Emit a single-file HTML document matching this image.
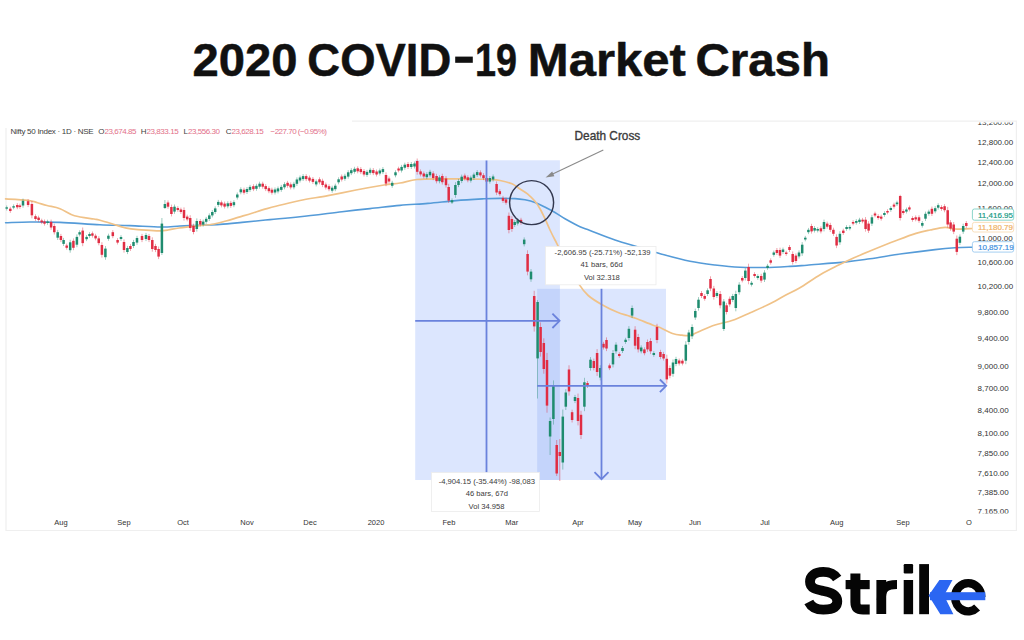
<!DOCTYPE html>
<html><head><meta charset="utf-8"><style>
html,body{margin:0;padding:0;background:#fff;width:1024px;height:640px;overflow:hidden}
svg{position:absolute;left:0;top:0;display:block}
text{font-family:"Liberation Sans",sans-serif}
.ax{font-size:8px;fill:#333}
.tt{font-size:7.6px;fill:#3a3a3a}
.hd{font-size:8px}
</style></head><body>
<svg width="1024" height="640" viewBox="0 0 1024 640">
<rect width="1024" height="640" fill="#fff"/>
<g font-size="45.5" font-weight="bold" fill="#111" stroke="#111" stroke-width="0.5" stroke-linejoin="round">
<text x="192.6" y="76.3" textLength="105" lengthAdjust="spacingAndGlyphs">2020</text>
<text x="307.3" y="76.3" textLength="144" lengthAdjust="spacingAndGlyphs">COVID</text>
<rect x="455.2" y="56.6" width="17.6" height="6.2" stroke="none"/>
<text x="475" y="76.3" textLength="42" lengthAdjust="spacingAndGlyphs">19</text>
<text x="527.8" y="76.3" textLength="158.1" lengthAdjust="spacingAndGlyphs">Market</text>
<text x="695.4" y="76.3" textLength="134.6" lengthAdjust="spacingAndGlyphs">Crash</text>
</g>
<!-- chart frame -->
<path d="M6,128 L6,530.5 L1016.4,530.5 L1016.4,121.2 L352,121.2" fill="none" stroke="#efefef" stroke-width="1.2"/>
<!-- ranges -->
<rect x="415.2" y="160.3" width="144.7" height="319.7" fill="#dce6fe"/>
<rect x="537.2" y="288.8" width="128.8" height="191.2" fill="#dce6fe"/>
<rect x="537.2" y="288.8" width="22.7" height="191.2" fill="#c4d4fb"/>
<!-- MAs -->
<path d="M5.6,222.8 C9.7,222.7 20.9,222.1 30.0,222.0 C39.1,221.9 48.3,222.0 60.0,222.4 C71.7,222.8 88.3,224.2 100.0,224.7 C111.7,225.2 119.8,225.2 130.0,225.6 C140.2,226.0 152.7,226.9 161.0,227.0 C169.3,227.1 173.5,226.3 180.0,226.0 C186.5,225.7 193.3,225.6 200.0,225.3 C206.7,225.0 213.0,224.9 220.0,224.4 C227.0,223.9 233.7,223.2 242.0,222.4 C250.3,221.6 260.3,220.5 270.0,219.6 C279.7,218.7 288.0,218.1 300.0,216.8 C312.0,215.5 330.3,213.1 342.0,211.7 C353.7,210.3 360.3,209.6 370.0,208.6 C379.7,207.6 390.3,206.3 400.0,205.4 C409.7,204.5 418.7,204.2 428.0,203.4 C437.3,202.6 446.7,201.4 456.0,200.6 C465.3,199.8 476.7,199.2 484.0,198.8 C491.3,198.4 494.8,198.4 500.0,198.4 C505.2,198.4 510.8,198.4 515.0,198.6 C519.2,198.8 521.7,199.2 525.0,199.8 C528.3,200.5 531.7,201.3 535.0,202.5 C538.3,203.7 541.4,205.3 544.7,207.0 C548.0,208.7 551.6,210.5 555.0,212.5 C558.4,214.5 560.8,216.4 565.0,218.8 C569.2,221.2 575.8,224.8 580.0,226.7 C584.2,228.6 584.2,228.3 590.0,230.5 C595.8,232.7 606.7,237.2 615.0,240.0 C623.3,242.8 631.7,245.0 640.0,247.5 C648.3,250.0 656.7,252.7 665.0,255.0 C673.3,257.3 681.7,259.6 690.0,261.3 C698.3,263.0 706.7,264.0 715.0,265.0 C723.3,266.0 731.7,266.9 740.0,267.3 C748.3,267.7 756.7,267.6 765.0,267.5 C773.3,267.4 783.0,266.8 790.0,266.4 C797.0,266.0 797.7,265.9 807.0,265.2 C816.3,264.4 835.5,263.0 846.0,261.9 C856.5,260.8 860.7,260.1 870.0,258.8 C879.3,257.5 891.2,255.3 902.0,253.8 C912.8,252.3 926.2,250.6 935.0,249.6 C943.8,248.6 948.8,248.2 955.0,247.8 C961.2,247.4 969.6,247.3 972.5,247.2" fill="none" stroke="#559bd8" stroke-width="1.6" stroke-linejoin="round" stroke-linecap="round"/>
<path d="M5.6,198.9 C9.3,199.1 22.7,199.7 28.0,200.3 C33.3,200.9 34.3,201.8 37.5,202.7 C40.7,203.6 43.2,204.5 47.0,205.5 C50.8,206.5 55.4,207.0 60.0,208.7 C64.6,210.4 68.8,214.1 74.5,215.8 C80.2,217.5 89.8,218.3 94.0,219.0 C98.2,219.7 96.9,219.4 100.0,220.2 C103.1,221.0 108.5,222.7 112.7,224.0 C116.9,225.3 121.2,226.9 125.4,227.8 C129.6,228.8 133.9,229.3 138.0,229.7 C142.1,230.1 146.3,230.1 150.0,230.3 C153.7,230.5 157.0,230.9 160.0,230.8 C163.0,230.8 164.8,230.5 168.0,230.0 C171.2,229.5 174.7,228.6 179.0,228.0 C183.3,227.4 188.2,226.9 194.0,226.2 C199.8,225.5 208.7,224.9 214.0,224.0 C219.3,223.1 222.0,222.1 226.0,221.0 C230.0,219.9 233.7,218.7 238.0,217.4 C242.3,216.1 247.2,214.7 252.0,213.2 C256.8,211.7 261.8,210.0 267.0,208.6 C272.2,207.2 277.5,205.8 283.0,204.5 C288.5,203.2 292.5,202.0 300.0,200.5 C307.5,199.0 318.7,197.3 328.0,195.6 C337.3,193.8 346.7,191.8 356.0,190.0 C365.3,188.2 376.7,186.2 384.0,185.0 C391.3,183.8 394.5,183.9 400.0,183.0 C405.5,182.1 410.0,180.2 417.0,179.5 C424.0,178.8 433.2,178.9 442.0,178.8 C450.8,178.7 462.0,178.9 470.0,179.0 C478.0,179.1 485.0,179.2 490.0,179.5 C495.0,179.8 496.3,179.8 500.0,180.5 C503.7,181.2 508.7,182.4 512.0,183.8 C515.3,185.2 517.4,187.3 520.0,189.0 C522.6,190.7 525.0,191.8 527.5,193.8 C530.0,195.9 532.9,198.8 535.0,201.3 C537.1,203.8 538.3,205.8 540.0,208.7 C541.7,211.6 543.3,215.1 545.0,218.7 C546.7,222.2 548.3,226.4 550.0,230.0 C551.7,233.6 553.3,236.8 555.0,240.0 C556.7,243.2 558.2,246.2 560.0,249.5 C561.8,252.8 563.8,256.2 566.0,260.0 C568.2,263.8 570.8,267.9 573.0,272.0 C575.2,276.1 576.8,280.7 579.3,284.6 C581.8,288.5 584.3,292.1 588.2,295.5 C592.1,298.9 597.6,302.2 602.5,305.0 C607.4,307.8 613.3,310.6 617.5,312.3 C621.7,314.1 624.4,314.5 627.5,315.5 C630.6,316.5 632.1,316.9 636.3,318.5 C640.5,320.1 648.5,323.5 652.5,325.0 C656.5,326.5 656.7,326.1 660.0,327.5 C663.3,328.9 668.8,332.2 672.5,333.5 C676.2,334.8 679.0,334.9 682.0,335.2 C685.0,335.5 687.9,335.9 690.5,335.4 C693.1,334.9 693.5,333.9 697.6,332.2 C701.7,330.5 709.1,327.0 715.0,325.0 C720.9,323.0 726.8,322.4 732.7,320.3 C738.6,318.2 744.4,315.3 750.3,312.7 C756.2,310.1 762.0,307.7 767.9,304.8 C773.8,301.9 780.1,298.1 785.4,295.3 C790.7,292.5 793.6,291.6 799.5,288.1 C805.4,284.6 814.1,278.3 820.6,274.5 C827.1,270.7 832.6,268.1 838.2,265.3 C843.8,262.5 848.7,260.2 854.0,257.8 C859.3,255.4 863.2,253.8 870.0,251.0 C876.8,248.2 887.3,243.9 895.0,241.0 C902.7,238.1 910.2,235.2 916.0,233.4 C921.8,231.6 925.2,231.0 930.0,230.0 C934.8,229.0 940.8,227.5 945.0,227.3 C949.2,227.1 950.4,228.8 955.0,229.0 C959.6,229.2 969.6,228.6 972.5,228.5" fill="none" stroke="#f0c288" stroke-width="1.7" stroke-linejoin="round" stroke-linecap="round"/>
<!-- candles -->
<line x1="6.7" y1="205.5" x2="6.7" y2="210.5" stroke="#1f8c6f" stroke-width="0.8" opacity="0.55"/>
<rect x="5.45" y="207.3" width="2.5" height="1.4" fill="#1f8c6f"/>
<line x1="10.3" y1="206.8" x2="10.3" y2="212.9" stroke="#e02d43" stroke-width="0.8" opacity="0.55"/>
<rect x="9.05" y="208.7" width="2.5" height="2.3" fill="#e02d43"/>
<line x1="13.6" y1="204.4" x2="13.6" y2="209.3" stroke="#1f8c6f" stroke-width="0.8" opacity="0.55"/>
<rect x="12.35" y="206.2" width="2.5" height="1.4" fill="#1f8c6f"/>
<line x1="17.3" y1="203.1" x2="17.3" y2="209.2" stroke="#e02d43" stroke-width="0.8" opacity="0.55"/>
<rect x="16.05" y="205.0" width="2.5" height="2.3" fill="#e02d43"/>
<line x1="19.9" y1="203.7" x2="19.9" y2="208.8" stroke="#e02d43" stroke-width="0.8" opacity="0.55"/>
<rect x="18.65" y="205.5" width="2.5" height="1.5" fill="#e02d43"/>
<line x1="23.0" y1="198.6" x2="23.0" y2="207.7" stroke="#1f8c6f" stroke-width="0.8" opacity="0.55"/>
<rect x="21.75" y="200.8" width="2.5" height="4.7" fill="#1f8c6f"/>
<line x1="28.1" y1="199.1" x2="28.1" y2="207.1" stroke="#e02d43" stroke-width="0.8" opacity="0.55"/>
<rect x="26.85" y="201.2" width="2.5" height="3.8" fill="#e02d43"/>
<line x1="31.9" y1="201.0" x2="31.9" y2="218.3" stroke="#e02d43" stroke-width="0.8" opacity="0.55"/>
<rect x="30.65" y="204.0" width="2.5" height="11.3" fill="#e02d43"/>
<line x1="35.5" y1="214.3" x2="35.5" y2="220.9" stroke="#e02d43" stroke-width="0.8" opacity="0.55"/>
<rect x="34.25" y="216.2" width="2.5" height="2.8" fill="#e02d43"/>
<line x1="38.6" y1="215.7" x2="38.6" y2="221.9" stroke="#e02d43" stroke-width="0.8" opacity="0.55"/>
<rect x="37.35" y="217.6" width="2.5" height="2.4" fill="#e02d43"/>
<line x1="41.7" y1="218.7" x2="41.7" y2="224.1" stroke="#e02d43" stroke-width="0.8" opacity="0.55"/>
<rect x="40.45" y="220.5" width="2.5" height="1.8" fill="#e02d43"/>
<line x1="44.5" y1="219.5" x2="44.5" y2="225.6" stroke="#e02d43" stroke-width="0.8" opacity="0.55"/>
<rect x="43.25" y="221.4" width="2.5" height="2.3" fill="#e02d43"/>
<line x1="47.6" y1="219.7" x2="47.6" y2="224.8" stroke="#1f8c6f" stroke-width="0.8" opacity="0.55"/>
<rect x="46.35" y="221.5" width="2.5" height="1.5" fill="#1f8c6f"/>
<line x1="51.1" y1="219.6" x2="51.1" y2="229.8" stroke="#e02d43" stroke-width="0.8" opacity="0.55"/>
<rect x="49.85" y="221.9" width="2.5" height="5.6" fill="#e02d43"/>
<line x1="54.3" y1="223.7" x2="54.3" y2="234.5" stroke="#e02d43" stroke-width="0.8" opacity="0.55"/>
<rect x="53.05" y="226.0" width="2.5" height="6.2" fill="#e02d43"/>
<line x1="57.7" y1="229.9" x2="57.7" y2="240.0" stroke="#1f8c6f" stroke-width="0.8" opacity="0.55"/>
<rect x="56.45" y="232.2" width="2.5" height="5.5" fill="#1f8c6f"/>
<line x1="60.9" y1="233.9" x2="60.9" y2="242.1" stroke="#e02d43" stroke-width="0.8" opacity="0.55"/>
<rect x="59.65" y="236.0" width="2.5" height="4.0" fill="#e02d43"/>
<line x1="63.6" y1="237.9" x2="63.6" y2="246.0" stroke="#1f8c6f" stroke-width="0.8" opacity="0.55"/>
<rect x="62.35" y="240.0" width="2.5" height="3.9" fill="#1f8c6f"/>
<line x1="66.7" y1="243.6" x2="66.7" y2="249.7" stroke="#e02d43" stroke-width="0.8" opacity="0.55"/>
<rect x="65.45" y="245.5" width="2.5" height="2.3" fill="#e02d43"/>
<line x1="70.2" y1="239.8" x2="70.2" y2="252.7" stroke="#1f8c6f" stroke-width="0.8" opacity="0.55"/>
<rect x="68.95" y="242.3" width="2.5" height="7.9" fill="#1f8c6f"/>
<line x1="73.4" y1="238.4" x2="73.4" y2="250.2" stroke="#e02d43" stroke-width="0.8" opacity="0.55"/>
<rect x="72.15" y="240.8" width="2.5" height="7.0" fill="#e02d43"/>
<line x1="76.9" y1="234.4" x2="76.9" y2="247.2" stroke="#1f8c6f" stroke-width="0.8" opacity="0.55"/>
<rect x="75.65" y="236.9" width="2.5" height="7.8" fill="#1f8c6f"/>
<line x1="79.6" y1="230.3" x2="79.6" y2="236.4" stroke="#1f8c6f" stroke-width="0.8" opacity="0.55"/>
<rect x="78.35" y="232.2" width="2.5" height="2.3" fill="#1f8c6f"/>
<line x1="82.7" y1="227.5" x2="82.7" y2="246.2" stroke="#e02d43" stroke-width="0.8" opacity="0.55"/>
<rect x="81.45" y="230.6" width="2.5" height="12.5" fill="#e02d43"/>
<line x1="86.6" y1="235.0" x2="86.6" y2="241.1" stroke="#1f8c6f" stroke-width="0.8" opacity="0.55"/>
<rect x="85.35" y="236.9" width="2.5" height="2.3" fill="#1f8c6f"/>
<line x1="89.5" y1="232.2" x2="89.5" y2="237.8" stroke="#1f8c6f" stroke-width="0.8" opacity="0.55"/>
<rect x="88.25" y="234.0" width="2.5" height="2.0" fill="#1f8c6f"/>
<line x1="92.4" y1="231.5" x2="92.4" y2="237.6" stroke="#e02d43" stroke-width="0.8" opacity="0.55"/>
<rect x="91.15" y="233.4" width="2.5" height="2.3" fill="#e02d43"/>
<line x1="95.6" y1="233.8" x2="95.6" y2="240.3" stroke="#e02d43" stroke-width="0.8" opacity="0.55"/>
<rect x="94.35" y="235.7" width="2.5" height="2.7" fill="#e02d43"/>
<line x1="98.8" y1="236.2" x2="98.8" y2="245.3" stroke="#e02d43" stroke-width="0.8" opacity="0.55"/>
<rect x="97.50" y="238.4" width="2.5" height="4.7" fill="#e02d43"/>
<line x1="101.9" y1="242.2" x2="101.9" y2="257.6" stroke="#e02d43" stroke-width="0.8" opacity="0.55"/>
<rect x="100.65" y="245.0" width="2.5" height="9.8" fill="#e02d43"/>
<line x1="105.4" y1="246.0" x2="105.4" y2="259.8" stroke="#1f8c6f" stroke-width="0.8" opacity="0.55"/>
<rect x="104.15" y="248.6" width="2.5" height="8.6" fill="#1f8c6f"/>
<line x1="108.4" y1="233.7" x2="108.4" y2="240.8" stroke="#1f8c6f" stroke-width="0.8" opacity="0.55"/>
<rect x="107.15" y="235.7" width="2.5" height="3.1" fill="#1f8c6f"/>
<line x1="112.8" y1="230.1" x2="112.8" y2="238.2" stroke="#e02d43" stroke-width="0.8" opacity="0.55"/>
<rect x="111.55" y="232.2" width="2.5" height="3.9" fill="#e02d43"/>
<line x1="117.6" y1="238.1" x2="117.6" y2="244.5" stroke="#e02d43" stroke-width="0.8" opacity="0.55"/>
<rect x="116.35" y="240.0" width="2.5" height="2.6" fill="#e02d43"/>
<line x1="121.0" y1="235.2" x2="121.0" y2="240.8" stroke="#1f8c6f" stroke-width="0.8" opacity="0.55"/>
<rect x="119.75" y="237.0" width="2.5" height="2.0" fill="#1f8c6f"/>
<line x1="124.0" y1="239.4" x2="124.0" y2="252.6" stroke="#e02d43" stroke-width="0.8" opacity="0.55"/>
<rect x="122.75" y="242.0" width="2.5" height="8.0" fill="#e02d43"/>
<line x1="127.4" y1="245.9" x2="127.4" y2="254.1" stroke="#1f8c6f" stroke-width="0.8" opacity="0.55"/>
<rect x="126.15" y="248.0" width="2.5" height="4.0" fill="#1f8c6f"/>
<line x1="130.4" y1="244.0" x2="130.4" y2="251.0" stroke="#e02d43" stroke-width="0.8" opacity="0.55"/>
<rect x="129.15" y="246.0" width="2.5" height="3.0" fill="#e02d43"/>
<line x1="133.5" y1="239.9" x2="133.5" y2="248.1" stroke="#1f8c6f" stroke-width="0.8" opacity="0.55"/>
<rect x="132.25" y="242.0" width="2.5" height="4.0" fill="#1f8c6f"/>
<line x1="137.0" y1="235.8" x2="137.0" y2="244.8" stroke="#1f8c6f" stroke-width="0.8" opacity="0.55"/>
<rect x="135.75" y="238.0" width="2.5" height="4.6" fill="#1f8c6f"/>
<line x1="142.0" y1="233.9" x2="142.0" y2="242.1" stroke="#e02d43" stroke-width="0.8" opacity="0.55"/>
<rect x="140.75" y="236.0" width="2.5" height="4.0" fill="#e02d43"/>
<line x1="146.0" y1="232.9" x2="146.0" y2="241.1" stroke="#1f8c6f" stroke-width="0.8" opacity="0.55"/>
<rect x="144.75" y="235.0" width="2.5" height="4.0" fill="#1f8c6f"/>
<line x1="149.0" y1="233.9" x2="149.0" y2="242.1" stroke="#e02d43" stroke-width="0.8" opacity="0.55"/>
<rect x="147.75" y="236.0" width="2.5" height="4.0" fill="#e02d43"/>
<line x1="152.3" y1="237.3" x2="152.3" y2="251.7" stroke="#e02d43" stroke-width="0.8" opacity="0.55"/>
<rect x="151.05" y="240.0" width="2.5" height="9.0" fill="#e02d43"/>
<line x1="155.5" y1="243.9" x2="155.5" y2="252.1" stroke="#e02d43" stroke-width="0.8" opacity="0.55"/>
<rect x="154.25" y="246.0" width="2.5" height="4.0" fill="#e02d43"/>
<line x1="158.6" y1="246.5" x2="158.6" y2="259.1" stroke="#e02d43" stroke-width="0.8" opacity="0.55"/>
<rect x="157.35" y="249.0" width="2.5" height="7.6" fill="#e02d43"/>
<line x1="161.9" y1="218.0" x2="161.9" y2="255.0" stroke="#1f8c6f" stroke-width="0.8" opacity="0.55"/>
<rect x="160.65" y="223.6" width="2.5" height="29.4" fill="#1f8c6f"/>
<line x1="164.9" y1="200.0" x2="164.9" y2="209.0" stroke="#1f8c6f" stroke-width="0.8" opacity="0.55"/>
<rect x="163.65" y="204.0" width="2.5" height="4.0" fill="#1f8c6f"/>
<line x1="168.0" y1="200.4" x2="168.0" y2="208.8" stroke="#e02d43" stroke-width="0.8" opacity="0.55"/>
<rect x="166.75" y="202.5" width="2.5" height="4.2" fill="#e02d43"/>
<line x1="171.4" y1="204.6" x2="171.4" y2="216.4" stroke="#e02d43" stroke-width="0.8" opacity="0.55"/>
<rect x="170.15" y="207.0" width="2.5" height="7.0" fill="#e02d43"/>
<line x1="174.5" y1="204.5" x2="174.5" y2="213.8" stroke="#1f8c6f" stroke-width="0.8" opacity="0.55"/>
<rect x="173.25" y="206.7" width="2.5" height="4.9" fill="#1f8c6f"/>
<line x1="177.8" y1="206.2" x2="177.8" y2="211.8" stroke="#e02d43" stroke-width="0.8" opacity="0.55"/>
<rect x="176.55" y="208.0" width="2.5" height="2.0" fill="#e02d43"/>
<line x1="180.9" y1="207.6" x2="180.9" y2="213.9" stroke="#e02d43" stroke-width="0.8" opacity="0.55"/>
<rect x="179.65" y="209.5" width="2.5" height="2.5" fill="#e02d43"/>
<line x1="184.0" y1="207.4" x2="184.0" y2="220.6" stroke="#e02d43" stroke-width="0.8" opacity="0.55"/>
<rect x="182.75" y="210.0" width="2.5" height="8.0" fill="#e02d43"/>
<line x1="187.2" y1="214.7" x2="187.2" y2="221.3" stroke="#e02d43" stroke-width="0.8" opacity="0.55"/>
<rect x="185.95" y="216.6" width="2.5" height="2.8" fill="#e02d43"/>
<line x1="190.2" y1="215.2" x2="190.2" y2="230.8" stroke="#e02d43" stroke-width="0.8" opacity="0.55"/>
<rect x="188.95" y="218.0" width="2.5" height="10.0" fill="#e02d43"/>
<line x1="193.5" y1="223.7" x2="193.5" y2="234.3" stroke="#e02d43" stroke-width="0.8" opacity="0.55"/>
<rect x="192.25" y="226.0" width="2.5" height="6.0" fill="#e02d43"/>
<line x1="196.8" y1="218.4" x2="196.8" y2="231.6" stroke="#1f8c6f" stroke-width="0.8" opacity="0.55"/>
<rect x="195.55" y="221.0" width="2.5" height="8.0" fill="#1f8c6f"/>
<line x1="200.3" y1="219.0" x2="200.3" y2="226.5" stroke="#e02d43" stroke-width="0.8" opacity="0.55"/>
<rect x="199.05" y="221.0" width="2.5" height="3.5" fill="#e02d43"/>
<line x1="203.2" y1="219.6" x2="203.2" y2="226.6" stroke="#1f8c6f" stroke-width="0.8" opacity="0.55"/>
<rect x="201.95" y="221.6" width="2.5" height="3.0" fill="#1f8c6f"/>
<line x1="206.2" y1="216.9" x2="206.2" y2="223.8" stroke="#1f8c6f" stroke-width="0.8" opacity="0.55"/>
<rect x="204.95" y="218.8" width="2.5" height="3.0" fill="#1f8c6f"/>
<line x1="209.3" y1="213.4" x2="209.3" y2="221.0" stroke="#1f8c6f" stroke-width="0.8" opacity="0.55"/>
<rect x="208.05" y="215.4" width="2.5" height="3.6" fill="#1f8c6f"/>
<line x1="212.3" y1="210.0" x2="212.3" y2="217.4" stroke="#1f8c6f" stroke-width="0.8" opacity="0.55"/>
<rect x="211.05" y="212.0" width="2.5" height="3.4" fill="#1f8c6f"/>
<line x1="215.2" y1="206.4" x2="215.2" y2="214.0" stroke="#1f8c6f" stroke-width="0.8" opacity="0.55"/>
<rect x="213.95" y="208.4" width="2.5" height="3.6" fill="#1f8c6f"/>
<line x1="218.3" y1="199.9" x2="218.3" y2="206.9" stroke="#1f8c6f" stroke-width="0.8" opacity="0.55"/>
<rect x="217.05" y="201.9" width="2.5" height="3.0" fill="#1f8c6f"/>
<line x1="221.4" y1="200.5" x2="221.4" y2="207.4" stroke="#e02d43" stroke-width="0.8" opacity="0.55"/>
<rect x="220.15" y="202.4" width="2.5" height="3.0" fill="#e02d43"/>
<line x1="224.6" y1="201.6" x2="224.6" y2="208.5" stroke="#e02d43" stroke-width="0.8" opacity="0.55"/>
<rect x="223.35" y="203.6" width="2.5" height="3.0" fill="#e02d43"/>
<line x1="227.8" y1="201.3" x2="227.8" y2="208.3" stroke="#1f8c6f" stroke-width="0.8" opacity="0.55"/>
<rect x="226.55" y="203.3" width="2.5" height="3.0" fill="#1f8c6f"/>
<line x1="230.8" y1="200.9" x2="230.8" y2="207.9" stroke="#e02d43" stroke-width="0.8" opacity="0.55"/>
<rect x="229.55" y="202.9" width="2.5" height="3.0" fill="#e02d43"/>
<line x1="233.9" y1="200.3" x2="233.9" y2="207.2" stroke="#1f8c6f" stroke-width="0.8" opacity="0.55"/>
<rect x="232.65" y="202.2" width="2.5" height="3.0" fill="#1f8c6f"/>
<line x1="237.3" y1="192.5" x2="237.3" y2="199.5" stroke="#1f8c6f" stroke-width="0.8" opacity="0.55"/>
<rect x="236.05" y="194.5" width="2.5" height="3.0" fill="#1f8c6f"/>
<line x1="240.8" y1="187.3" x2="240.8" y2="194.3" stroke="#1f8c6f" stroke-width="0.8" opacity="0.55"/>
<rect x="239.55" y="189.3" width="2.5" height="3.0" fill="#1f8c6f"/>
<line x1="244.0" y1="187.7" x2="244.0" y2="194.6" stroke="#e02d43" stroke-width="0.8" opacity="0.55"/>
<rect x="242.75" y="189.7" width="2.5" height="3.0" fill="#e02d43"/>
<line x1="247.0" y1="187.0" x2="247.0" y2="194.0" stroke="#1f8c6f" stroke-width="0.8" opacity="0.55"/>
<rect x="245.75" y="189.0" width="2.5" height="3.0" fill="#1f8c6f"/>
<line x1="250.0" y1="184.9" x2="250.0" y2="191.9" stroke="#1f8c6f" stroke-width="0.8" opacity="0.55"/>
<rect x="248.75" y="186.9" width="2.5" height="3.0" fill="#1f8c6f"/>
<line x1="253.4" y1="184.2" x2="253.4" y2="191.1" stroke="#e02d43" stroke-width="0.8" opacity="0.55"/>
<rect x="252.15" y="186.2" width="2.5" height="3.0" fill="#e02d43"/>
<line x1="256.4" y1="183.8" x2="256.4" y2="190.8" stroke="#1f8c6f" stroke-width="0.8" opacity="0.55"/>
<rect x="255.15" y="185.8" width="2.5" height="3.0" fill="#1f8c6f"/>
<line x1="259.6" y1="181.7" x2="259.6" y2="188.7" stroke="#1f8c6f" stroke-width="0.8" opacity="0.55"/>
<rect x="258.35" y="183.7" width="2.5" height="3.0" fill="#1f8c6f"/>
<line x1="262.7" y1="181.7" x2="262.7" y2="188.7" stroke="#e02d43" stroke-width="0.8" opacity="0.55"/>
<rect x="261.45" y="183.7" width="2.5" height="3.0" fill="#e02d43"/>
<line x1="265.7" y1="184.2" x2="265.7" y2="191.1" stroke="#e02d43" stroke-width="0.8" opacity="0.55"/>
<rect x="264.45" y="186.1" width="2.5" height="3.0" fill="#e02d43"/>
<line x1="268.9" y1="186.3" x2="268.9" y2="193.2" stroke="#e02d43" stroke-width="0.8" opacity="0.55"/>
<rect x="267.65" y="188.2" width="2.5" height="3.0" fill="#e02d43"/>
<line x1="271.9" y1="187.7" x2="271.9" y2="194.6" stroke="#e02d43" stroke-width="0.8" opacity="0.55"/>
<rect x="270.65" y="189.7" width="2.5" height="3.0" fill="#e02d43"/>
<line x1="275.0" y1="187.5" x2="275.0" y2="194.5" stroke="#1f8c6f" stroke-width="0.8" opacity="0.55"/>
<rect x="273.75" y="189.5" width="2.5" height="3.0" fill="#1f8c6f"/>
<line x1="278.0" y1="186.5" x2="278.0" y2="193.4" stroke="#1f8c6f" stroke-width="0.8" opacity="0.55"/>
<rect x="276.75" y="188.4" width="2.5" height="3.0" fill="#1f8c6f"/>
<line x1="281.3" y1="184.9" x2="281.3" y2="191.8" stroke="#1f8c6f" stroke-width="0.8" opacity="0.55"/>
<rect x="280.05" y="186.9" width="2.5" height="3.0" fill="#1f8c6f"/>
<line x1="284.5" y1="182.2" x2="284.5" y2="189.3" stroke="#1f8c6f" stroke-width="0.8" opacity="0.55"/>
<rect x="283.25" y="184.2" width="2.5" height="3.1" fill="#1f8c6f"/>
<line x1="287.6" y1="180.9" x2="287.6" y2="187.8" stroke="#e02d43" stroke-width="0.8" opacity="0.55"/>
<rect x="286.35" y="182.8" width="2.5" height="3.0" fill="#e02d43"/>
<line x1="290.7" y1="182.4" x2="290.7" y2="189.4" stroke="#e02d43" stroke-width="0.8" opacity="0.55"/>
<rect x="289.45" y="184.4" width="2.5" height="3.0" fill="#e02d43"/>
<line x1="293.9" y1="181.8" x2="293.9" y2="189.3" stroke="#1f8c6f" stroke-width="0.8" opacity="0.55"/>
<rect x="292.65" y="183.8" width="2.5" height="3.5" fill="#1f8c6f"/>
<line x1="296.9" y1="177.4" x2="296.9" y2="185.9" stroke="#1f8c6f" stroke-width="0.8" opacity="0.55"/>
<rect x="295.65" y="179.5" width="2.5" height="4.3" fill="#1f8c6f"/>
<line x1="300.0" y1="175.5" x2="300.0" y2="182.5" stroke="#1f8c6f" stroke-width="0.8" opacity="0.55"/>
<rect x="298.75" y="177.5" width="2.5" height="3.0" fill="#1f8c6f"/>
<line x1="303.1" y1="174.1" x2="303.1" y2="181.0" stroke="#1f8c6f" stroke-width="0.8" opacity="0.55"/>
<rect x="301.85" y="176.1" width="2.5" height="3.0" fill="#1f8c6f"/>
<line x1="306.2" y1="174.2" x2="306.2" y2="181.1" stroke="#e02d43" stroke-width="0.8" opacity="0.55"/>
<rect x="304.95" y="176.1" width="2.5" height="3.0" fill="#e02d43"/>
<line x1="309.5" y1="175.6" x2="309.5" y2="182.5" stroke="#e02d43" stroke-width="0.8" opacity="0.55"/>
<rect x="308.25" y="177.6" width="2.5" height="3.0" fill="#e02d43"/>
<line x1="312.9" y1="177.0" x2="312.9" y2="183.9" stroke="#e02d43" stroke-width="0.8" opacity="0.55"/>
<rect x="311.65" y="178.9" width="2.5" height="3.0" fill="#e02d43"/>
<line x1="316.2" y1="179.4" x2="316.2" y2="186.4" stroke="#1f8c6f" stroke-width="0.8" opacity="0.55"/>
<rect x="314.95" y="181.4" width="2.5" height="3.0" fill="#1f8c6f"/>
<line x1="319.5" y1="177.3" x2="319.5" y2="184.3" stroke="#e02d43" stroke-width="0.8" opacity="0.55"/>
<rect x="318.25" y="179.3" width="2.5" height="3.0" fill="#e02d43"/>
<line x1="322.6" y1="178.7" x2="322.6" y2="187.1" stroke="#e02d43" stroke-width="0.8" opacity="0.55"/>
<rect x="321.35" y="180.8" width="2.5" height="4.2" fill="#e02d43"/>
<line x1="325.8" y1="182.5" x2="325.8" y2="189.5" stroke="#e02d43" stroke-width="0.8" opacity="0.55"/>
<rect x="324.55" y="184.5" width="2.5" height="3.0" fill="#e02d43"/>
<line x1="329.0" y1="184.3" x2="329.0" y2="191.2" stroke="#e02d43" stroke-width="0.8" opacity="0.55"/>
<rect x="327.75" y="186.2" width="2.5" height="3.0" fill="#e02d43"/>
<line x1="332.2" y1="185.7" x2="332.2" y2="192.7" stroke="#1f8c6f" stroke-width="0.8" opacity="0.55"/>
<rect x="330.95" y="187.7" width="2.5" height="3.0" fill="#1f8c6f"/>
<line x1="335.3" y1="183.7" x2="335.3" y2="191.2" stroke="#1f8c6f" stroke-width="0.8" opacity="0.55"/>
<rect x="334.05" y="185.7" width="2.5" height="3.5" fill="#1f8c6f"/>
<line x1="338.6" y1="177.3" x2="338.6" y2="184.3" stroke="#1f8c6f" stroke-width="0.8" opacity="0.55"/>
<rect x="337.35" y="179.3" width="2.5" height="3.0" fill="#1f8c6f"/>
<line x1="341.7" y1="174.5" x2="341.7" y2="181.5" stroke="#e02d43" stroke-width="0.8" opacity="0.55"/>
<rect x="340.45" y="176.5" width="2.5" height="3.0" fill="#e02d43"/>
<line x1="344.9" y1="173.8" x2="344.9" y2="180.8" stroke="#1f8c6f" stroke-width="0.8" opacity="0.55"/>
<rect x="343.65" y="175.8" width="2.5" height="3.0" fill="#1f8c6f"/>
<line x1="348.2" y1="170.2" x2="348.2" y2="178.7" stroke="#1f8c6f" stroke-width="0.8" opacity="0.55"/>
<rect x="346.95" y="172.3" width="2.5" height="4.3" fill="#1f8c6f"/>
<line x1="351.3" y1="168.2" x2="351.3" y2="175.1" stroke="#1f8c6f" stroke-width="0.8" opacity="0.55"/>
<rect x="350.05" y="170.2" width="2.5" height="3.0" fill="#1f8c6f"/>
<line x1="354.6" y1="166.8" x2="354.6" y2="173.7" stroke="#1f8c6f" stroke-width="0.8" opacity="0.55"/>
<rect x="353.35" y="168.8" width="2.5" height="3.0" fill="#1f8c6f"/>
<line x1="357.7" y1="166.4" x2="357.7" y2="173.3" stroke="#e02d43" stroke-width="0.8" opacity="0.55"/>
<rect x="356.45" y="168.3" width="2.5" height="3.0" fill="#e02d43"/>
<line x1="360.8" y1="167.1" x2="360.8" y2="174.1" stroke="#e02d43" stroke-width="0.8" opacity="0.55"/>
<rect x="359.55" y="169.1" width="2.5" height="3.0" fill="#e02d43"/>
<line x1="364.0" y1="169.0" x2="364.0" y2="176.5" stroke="#e02d43" stroke-width="0.8" opacity="0.55"/>
<rect x="362.75" y="171.0" width="2.5" height="3.5" fill="#e02d43"/>
<line x1="367.0" y1="169.9" x2="367.0" y2="176.9" stroke="#1f8c6f" stroke-width="0.8" opacity="0.55"/>
<rect x="365.75" y="171.9" width="2.5" height="3.0" fill="#1f8c6f"/>
<line x1="370.2" y1="167.8" x2="370.2" y2="174.7" stroke="#1f8c6f" stroke-width="0.8" opacity="0.55"/>
<rect x="368.95" y="169.8" width="2.5" height="3.0" fill="#1f8c6f"/>
<line x1="373.3" y1="168.1" x2="373.3" y2="175.1" stroke="#e02d43" stroke-width="0.8" opacity="0.55"/>
<rect x="372.05" y="170.1" width="2.5" height="3.0" fill="#e02d43"/>
<line x1="376.6" y1="169.5" x2="376.6" y2="176.5" stroke="#e02d43" stroke-width="0.8" opacity="0.55"/>
<rect x="375.35" y="171.5" width="2.5" height="3.0" fill="#e02d43"/>
<line x1="379.8" y1="168.5" x2="379.8" y2="175.5" stroke="#1f8c6f" stroke-width="0.8" opacity="0.55"/>
<rect x="378.55" y="170.5" width="2.5" height="3.0" fill="#1f8c6f"/>
<line x1="382.9" y1="167.1" x2="382.9" y2="174.1" stroke="#1f8c6f" stroke-width="0.8" opacity="0.55"/>
<rect x="381.65" y="169.1" width="2.5" height="3.0" fill="#1f8c6f"/>
<line x1="386.0" y1="172.4" x2="386.0" y2="186.2" stroke="#e02d43" stroke-width="0.8" opacity="0.55"/>
<rect x="384.75" y="175.0" width="2.5" height="8.6" fill="#e02d43"/>
<line x1="389.0" y1="176.5" x2="389.0" y2="183.5" stroke="#e02d43" stroke-width="0.8" opacity="0.55"/>
<rect x="387.75" y="178.5" width="2.5" height="3.0" fill="#e02d43"/>
<line x1="392.2" y1="180.8" x2="392.2" y2="187.8" stroke="#1f8c6f" stroke-width="0.8" opacity="0.55"/>
<rect x="390.95" y="182.8" width="2.5" height="3.0" fill="#1f8c6f"/>
<line x1="395.5" y1="170.3" x2="395.5" y2="177.3" stroke="#1f8c6f" stroke-width="0.8" opacity="0.55"/>
<rect x="394.25" y="172.3" width="2.5" height="3.0" fill="#1f8c6f"/>
<line x1="398.6" y1="166.7" x2="398.6" y2="172.3" stroke="#e02d43" stroke-width="0.8" opacity="0.55"/>
<rect x="397.35" y="168.5" width="2.5" height="2.0" fill="#e02d43"/>
<line x1="401.6" y1="164.9" x2="401.6" y2="172.5" stroke="#1f8c6f" stroke-width="0.8" opacity="0.55"/>
<rect x="400.35" y="166.9" width="2.5" height="3.6" fill="#1f8c6f"/>
<line x1="404.8" y1="162.7" x2="404.8" y2="169.7" stroke="#1f8c6f" stroke-width="0.8" opacity="0.55"/>
<rect x="403.55" y="164.7" width="2.5" height="3.0" fill="#1f8c6f"/>
<line x1="408.0" y1="162.0" x2="408.0" y2="169.0" stroke="#e02d43" stroke-width="0.8" opacity="0.55"/>
<rect x="406.75" y="164.0" width="2.5" height="3.0" fill="#e02d43"/>
<line x1="411.3" y1="162.0" x2="411.3" y2="169.0" stroke="#1f8c6f" stroke-width="0.8" opacity="0.55"/>
<rect x="410.05" y="164.0" width="2.5" height="3.0" fill="#1f8c6f"/>
<line x1="414.5" y1="161.5" x2="414.5" y2="168.5" stroke="#1f8c6f" stroke-width="0.8" opacity="0.55"/>
<rect x="413.25" y="163.5" width="2.5" height="3.0" fill="#1f8c6f"/>
<line x1="417.2" y1="158.5" x2="417.2" y2="174.7" stroke="#e02d43" stroke-width="0.8" opacity="0.55"/>
<rect x="415.95" y="161.0" width="2.5" height="10.8" fill="#e02d43"/>
<line x1="420.6" y1="169.4" x2="420.6" y2="176.4" stroke="#e02d43" stroke-width="0.8" opacity="0.55"/>
<rect x="419.35" y="171.4" width="2.5" height="3.0" fill="#e02d43"/>
<line x1="423.8" y1="171.5" x2="423.8" y2="178.5" stroke="#e02d43" stroke-width="0.8" opacity="0.55"/>
<rect x="422.55" y="173.5" width="2.5" height="3.0" fill="#e02d43"/>
<line x1="426.8" y1="172.2" x2="426.8" y2="179.1" stroke="#1f8c6f" stroke-width="0.8" opacity="0.55"/>
<rect x="425.55" y="174.2" width="2.5" height="3.0" fill="#1f8c6f"/>
<line x1="430.0" y1="169.8" x2="430.0" y2="177.3" stroke="#1f8c6f" stroke-width="0.8" opacity="0.55"/>
<rect x="428.75" y="171.8" width="2.5" height="3.5" fill="#1f8c6f"/>
<line x1="433.2" y1="171.2" x2="433.2" y2="180.2" stroke="#e02d43" stroke-width="0.8" opacity="0.55"/>
<rect x="431.95" y="173.4" width="2.5" height="4.6" fill="#e02d43"/>
<line x1="436.6" y1="173.8" x2="436.6" y2="183.4" stroke="#e02d43" stroke-width="0.8" opacity="0.55"/>
<rect x="435.35" y="176.0" width="2.5" height="5.2" fill="#e02d43"/>
<line x1="439.5" y1="175.3" x2="439.5" y2="183.3" stroke="#1f8c6f" stroke-width="0.8" opacity="0.55"/>
<rect x="438.25" y="177.4" width="2.5" height="3.8" fill="#1f8c6f"/>
<line x1="442.3" y1="173.7" x2="442.3" y2="184.5" stroke="#e02d43" stroke-width="0.8" opacity="0.55"/>
<rect x="441.05" y="176.0" width="2.5" height="6.2" fill="#e02d43"/>
<line x1="446.0" y1="176.1" x2="446.0" y2="187.6" stroke="#e02d43" stroke-width="0.8" opacity="0.55"/>
<rect x="444.75" y="178.5" width="2.5" height="6.7" fill="#e02d43"/>
<line x1="448.7" y1="183.8" x2="448.7" y2="203.0" stroke="#e02d43" stroke-width="0.8" opacity="0.55"/>
<rect x="447.45" y="187.0" width="2.5" height="13.6" fill="#e02d43"/>
<line x1="452.0" y1="198.4" x2="452.0" y2="204.0" stroke="#1f8c6f" stroke-width="0.8" opacity="0.55"/>
<rect x="450.75" y="200.3" width="2.5" height="2.2" fill="#1f8c6f"/>
<line x1="455.4" y1="182.2" x2="455.4" y2="197.8" stroke="#1f8c6f" stroke-width="0.8" opacity="0.55"/>
<rect x="454.15" y="185.0" width="2.5" height="10.0" fill="#1f8c6f"/>
<line x1="458.5" y1="178.9" x2="458.5" y2="187.1" stroke="#1f8c6f" stroke-width="0.8" opacity="0.55"/>
<rect x="457.25" y="181.0" width="2.5" height="4.0" fill="#1f8c6f"/>
<line x1="461.7" y1="174.6" x2="461.7" y2="183.1" stroke="#1f8c6f" stroke-width="0.8" opacity="0.55"/>
<rect x="460.45" y="176.7" width="2.5" height="4.3" fill="#1f8c6f"/>
<line x1="464.8" y1="173.6" x2="464.8" y2="180.5" stroke="#e02d43" stroke-width="0.8" opacity="0.55"/>
<rect x="463.55" y="175.6" width="2.5" height="3.0" fill="#e02d43"/>
<line x1="467.8" y1="175.3" x2="467.8" y2="182.3" stroke="#e02d43" stroke-width="0.8" opacity="0.55"/>
<rect x="466.55" y="177.3" width="2.5" height="3.0" fill="#e02d43"/>
<line x1="470.8" y1="175.6" x2="470.8" y2="182.6" stroke="#1f8c6f" stroke-width="0.8" opacity="0.55"/>
<rect x="469.55" y="177.6" width="2.5" height="3.0" fill="#1f8c6f"/>
<line x1="473.9" y1="172.6" x2="473.9" y2="180.0" stroke="#1f8c6f" stroke-width="0.8" opacity="0.55"/>
<rect x="472.65" y="174.6" width="2.5" height="3.4" fill="#1f8c6f"/>
<line x1="477.2" y1="170.1" x2="477.2" y2="177.0" stroke="#1f8c6f" stroke-width="0.8" opacity="0.55"/>
<rect x="475.95" y="172.1" width="2.5" height="3.0" fill="#1f8c6f"/>
<line x1="480.4" y1="170.4" x2="480.4" y2="177.4" stroke="#e02d43" stroke-width="0.8" opacity="0.55"/>
<rect x="479.15" y="172.4" width="2.5" height="3.0" fill="#e02d43"/>
<line x1="483.5" y1="173.2" x2="483.5" y2="180.1" stroke="#e02d43" stroke-width="0.8" opacity="0.55"/>
<rect x="482.25" y="175.2" width="2.5" height="3.0" fill="#e02d43"/>
<line x1="486.6" y1="176.0" x2="486.6" y2="183.6" stroke="#e02d43" stroke-width="0.8" opacity="0.55"/>
<rect x="485.35" y="178.0" width="2.5" height="3.6" fill="#e02d43"/>
<line x1="489.8" y1="176.0" x2="489.8" y2="183.6" stroke="#1f8c6f" stroke-width="0.8" opacity="0.55"/>
<rect x="488.55" y="178.0" width="2.5" height="3.6" fill="#1f8c6f"/>
<line x1="493.1" y1="174.5" x2="493.1" y2="181.5" stroke="#1f8c6f" stroke-width="0.8" opacity="0.55"/>
<rect x="491.85" y="176.5" width="2.5" height="3.0" fill="#1f8c6f"/>
<line x1="496.6" y1="181.4" x2="496.6" y2="195.1" stroke="#e02d43" stroke-width="0.8" opacity="0.55"/>
<rect x="495.35" y="184.0" width="2.5" height="8.5" fill="#e02d43"/>
<line x1="499.8" y1="189.2" x2="499.8" y2="196.1" stroke="#e02d43" stroke-width="0.8" opacity="0.55"/>
<rect x="498.55" y="191.2" width="2.5" height="3.0" fill="#e02d43"/>
<line x1="503.0" y1="195.9" x2="503.0" y2="202.9" stroke="#e02d43" stroke-width="0.8" opacity="0.55"/>
<rect x="501.75" y="197.9" width="2.5" height="3.0" fill="#e02d43"/>
<line x1="506.0" y1="197.4" x2="506.0" y2="204.7" stroke="#e02d43" stroke-width="0.8" opacity="0.55"/>
<rect x="504.75" y="199.4" width="2.5" height="3.3" fill="#e02d43"/>
<line x1="508.9" y1="212.5" x2="508.9" y2="233.3" stroke="#e02d43" stroke-width="0.8" opacity="0.55"/>
<rect x="507.65" y="215.8" width="2.5" height="14.2" fill="#e02d43"/>
<line x1="511.9" y1="216.2" x2="511.9" y2="231.8" stroke="#e02d43" stroke-width="0.8" opacity="0.55"/>
<rect x="510.65" y="219.0" width="2.5" height="10.0" fill="#e02d43"/>
<line x1="514.7" y1="220.0" x2="514.7" y2="227.0" stroke="#1f8c6f" stroke-width="0.8" opacity="0.55"/>
<rect x="513.45" y="222.0" width="2.5" height="3.0" fill="#1f8c6f"/>
<line x1="517.7" y1="218.2" x2="517.7" y2="225.5" stroke="#1f8c6f" stroke-width="0.8" opacity="0.55"/>
<rect x="516.45" y="220.2" width="2.5" height="3.3" fill="#1f8c6f"/>
<line x1="521.0" y1="217.8" x2="521.0" y2="224.8" stroke="#e02d43" stroke-width="0.8" opacity="0.55"/>
<rect x="519.75" y="219.8" width="2.5" height="3.0" fill="#e02d43"/>
<line x1="524.2" y1="237.4" x2="524.2" y2="246.4" stroke="#1f8c6f" stroke-width="0.8" opacity="0.55"/>
<rect x="522.95" y="239.6" width="2.5" height="4.6" fill="#1f8c6f"/>
<line x1="527.6" y1="250.3" x2="527.6" y2="275.3" stroke="#e02d43" stroke-width="0.8" opacity="0.55"/>
<rect x="526.35" y="254.0" width="2.5" height="17.6" fill="#e02d43"/>
<line x1="531.0" y1="269.1" x2="531.0" y2="281.8" stroke="#1f8c6f" stroke-width="0.8" opacity="0.55"/>
<rect x="529.75" y="271.6" width="2.5" height="7.7" fill="#1f8c6f"/>
<line x1="534.2" y1="290.8" x2="534.2" y2="331.6" stroke="#e02d43" stroke-width="0.8" opacity="0.55"/>
<rect x="532.95" y="296.0" width="2.5" height="30.4" fill="#e02d43"/>
<line x1="537.6" y1="300.0" x2="537.6" y2="398.5" stroke="#1f8c6f" stroke-width="0.8" opacity="0.55"/>
<rect x="536.35" y="302.0" width="2.5" height="56.4" fill="#1f8c6f"/>
<line x1="540.6" y1="322.4" x2="540.6" y2="356.6" stroke="#e02d43" stroke-width="0.8" opacity="0.55"/>
<rect x="539.35" y="327.0" width="2.5" height="25.0" fill="#e02d43"/>
<line x1="543.8" y1="338.3" x2="543.8" y2="373.7" stroke="#e02d43" stroke-width="0.8" opacity="0.55"/>
<rect x="542.55" y="343.0" width="2.5" height="26.0" fill="#e02d43"/>
<line x1="547.0" y1="352.9" x2="547.0" y2="412.7" stroke="#e02d43" stroke-width="0.8" opacity="0.55"/>
<rect x="545.75" y="360.0" width="2.5" height="45.6" fill="#e02d43"/>
<line x1="550.1" y1="417.5" x2="550.1" y2="455.0" stroke="#1f8c6f" stroke-width="0.8" opacity="0.55"/>
<rect x="548.85" y="421.0" width="2.5" height="15.5" fill="#1f8c6f"/>
<line x1="553.4" y1="380.4" x2="553.4" y2="424.6" stroke="#1f8c6f" stroke-width="0.8" opacity="0.55"/>
<rect x="552.15" y="386.0" width="2.5" height="33.0" fill="#1f8c6f"/>
<line x1="556.7" y1="440.0" x2="556.7" y2="476.0" stroke="#e02d43" stroke-width="0.8" opacity="0.55"/>
<rect x="555.45" y="445.0" width="2.5" height="28.5" fill="#e02d43"/>
<line x1="559.8" y1="439.0" x2="559.8" y2="481.0" stroke="#e02d43" stroke-width="0.8" opacity="0.55"/>
<rect x="558.55" y="452.0" width="2.5" height="4.0" fill="#e02d43"/>
<line x1="562.8" y1="409.5" x2="562.8" y2="469.6" stroke="#1f8c6f" stroke-width="0.8" opacity="0.55"/>
<rect x="561.55" y="416.6" width="2.5" height="45.9" fill="#1f8c6f"/>
<line x1="565.8" y1="389.2" x2="565.8" y2="410.0" stroke="#1f8c6f" stroke-width="0.8" opacity="0.55"/>
<rect x="564.55" y="392.5" width="2.5" height="14.2" fill="#1f8c6f"/>
<line x1="569.0" y1="365.3" x2="569.0" y2="395.6" stroke="#e02d43" stroke-width="0.8" opacity="0.55"/>
<rect x="567.75" y="369.5" width="2.5" height="21.9" fill="#e02d43"/>
<line x1="572.1" y1="409.7" x2="572.1" y2="422.5" stroke="#e02d43" stroke-width="0.8" opacity="0.55"/>
<rect x="570.85" y="412.2" width="2.5" height="7.8" fill="#e02d43"/>
<line x1="575.0" y1="394.9" x2="575.0" y2="403.1" stroke="#1f8c6f" stroke-width="0.8" opacity="0.55"/>
<rect x="573.75" y="397.0" width="2.5" height="4.0" fill="#1f8c6f"/>
<line x1="578.0" y1="393.6" x2="578.0" y2="425.4" stroke="#e02d43" stroke-width="0.8" opacity="0.55"/>
<rect x="576.75" y="398.0" width="2.5" height="23.0" fill="#e02d43"/>
<line x1="581.0" y1="410.8" x2="581.0" y2="439.0" stroke="#e02d43" stroke-width="0.8" opacity="0.55"/>
<rect x="579.75" y="414.8" width="2.5" height="20.2" fill="#e02d43"/>
<line x1="584.4" y1="377.8" x2="584.4" y2="411.2" stroke="#1f8c6f" stroke-width="0.8" opacity="0.55"/>
<rect x="583.15" y="382.3" width="2.5" height="24.4" fill="#1f8c6f"/>
<line x1="587.5" y1="381.0" x2="587.5" y2="388.0" stroke="#e02d43" stroke-width="0.8" opacity="0.55"/>
<rect x="586.25" y="383.0" width="2.5" height="3.0" fill="#e02d43"/>
<line x1="590.5" y1="357.1" x2="590.5" y2="370.6" stroke="#1f8c6f" stroke-width="0.8" opacity="0.55"/>
<rect x="589.25" y="359.7" width="2.5" height="8.3" fill="#1f8c6f"/>
<line x1="593.8" y1="358.6" x2="593.8" y2="370.4" stroke="#e02d43" stroke-width="0.8" opacity="0.55"/>
<rect x="592.55" y="361.0" width="2.5" height="7.0" fill="#e02d43"/>
<line x1="597.1" y1="349.1" x2="597.1" y2="375.9" stroke="#e02d43" stroke-width="0.8" opacity="0.55"/>
<rect x="595.85" y="353.0" width="2.5" height="19.0" fill="#e02d43"/>
<line x1="600.3" y1="365.2" x2="600.3" y2="380.4" stroke="#1f8c6f" stroke-width="0.8" opacity="0.55"/>
<rect x="599.05" y="368.0" width="2.5" height="9.6" fill="#1f8c6f"/>
<line x1="603.5" y1="341.8" x2="603.5" y2="349.5" stroke="#e02d43" stroke-width="0.8" opacity="0.55"/>
<rect x="602.25" y="343.8" width="2.5" height="3.7" fill="#e02d43"/>
<line x1="606.5" y1="337.4" x2="606.5" y2="351.1" stroke="#e02d43" stroke-width="0.8" opacity="0.55"/>
<rect x="605.25" y="340.0" width="2.5" height="8.5" fill="#e02d43"/>
<line x1="609.6" y1="363.5" x2="609.6" y2="370.1" stroke="#e02d43" stroke-width="0.8" opacity="0.55"/>
<rect x="608.35" y="365.4" width="2.5" height="2.8" fill="#e02d43"/>
<line x1="613.0" y1="350.0" x2="613.0" y2="367.4" stroke="#1f8c6f" stroke-width="0.8" opacity="0.55"/>
<rect x="611.75" y="353.0" width="2.5" height="11.4" fill="#1f8c6f"/>
<line x1="616.0" y1="342.3" x2="616.0" y2="353.7" stroke="#1f8c6f" stroke-width="0.8" opacity="0.55"/>
<rect x="614.75" y="344.7" width="2.5" height="6.6" fill="#1f8c6f"/>
<line x1="619.3" y1="352.2" x2="619.3" y2="357.8" stroke="#e02d43" stroke-width="0.8" opacity="0.55"/>
<rect x="618.05" y="354.0" width="2.5" height="2.0" fill="#e02d43"/>
<line x1="622.5" y1="346.0" x2="622.5" y2="353.0" stroke="#1f8c6f" stroke-width="0.8" opacity="0.55"/>
<rect x="621.25" y="348.0" width="2.5" height="3.0" fill="#1f8c6f"/>
<line x1="625.6" y1="337.8" x2="625.6" y2="343.9" stroke="#1f8c6f" stroke-width="0.8" opacity="0.55"/>
<rect x="624.35" y="339.7" width="2.5" height="2.3" fill="#1f8c6f"/>
<line x1="628.9" y1="326.1" x2="628.9" y2="340.7" stroke="#1f8c6f" stroke-width="0.8" opacity="0.55"/>
<rect x="627.65" y="328.8" width="2.5" height="9.2" fill="#1f8c6f"/>
<line x1="632.1" y1="305.5" x2="632.1" y2="318.1" stroke="#1f8c6f" stroke-width="0.8" opacity="0.55"/>
<rect x="630.85" y="308.0" width="2.5" height="7.6" fill="#1f8c6f"/>
<line x1="635.1" y1="326.2" x2="635.1" y2="349.2" stroke="#e02d43" stroke-width="0.8" opacity="0.55"/>
<rect x="633.85" y="329.7" width="2.5" height="16.0" fill="#e02d43"/>
<line x1="638.2" y1="333.9" x2="638.2" y2="352.5" stroke="#e02d43" stroke-width="0.8" opacity="0.55"/>
<rect x="636.95" y="337.0" width="2.5" height="12.4" fill="#e02d43"/>
<line x1="641.2" y1="345.4" x2="641.2" y2="353.4" stroke="#1f8c6f" stroke-width="0.8" opacity="0.55"/>
<rect x="639.95" y="347.5" width="2.5" height="3.8" fill="#1f8c6f"/>
<line x1="644.4" y1="347.3" x2="644.4" y2="355.3" stroke="#e02d43" stroke-width="0.8" opacity="0.55"/>
<rect x="643.15" y="349.4" width="2.5" height="3.8" fill="#e02d43"/>
<line x1="647.5" y1="339.5" x2="647.5" y2="351.9" stroke="#e02d43" stroke-width="0.8" opacity="0.55"/>
<rect x="646.25" y="342.0" width="2.5" height="7.4" fill="#e02d43"/>
<line x1="650.6" y1="338.2" x2="650.6" y2="354.1" stroke="#e02d43" stroke-width="0.8" opacity="0.55"/>
<rect x="649.35" y="341.0" width="2.5" height="10.3" fill="#e02d43"/>
<line x1="653.8" y1="351.2" x2="653.8" y2="356.8" stroke="#1f8c6f" stroke-width="0.8" opacity="0.55"/>
<rect x="652.55" y="353.0" width="2.5" height="2.0" fill="#1f8c6f"/>
<line x1="657.0" y1="323.8" x2="657.0" y2="343.2" stroke="#e02d43" stroke-width="0.8" opacity="0.55"/>
<rect x="655.75" y="327.0" width="2.5" height="13.0" fill="#e02d43"/>
<line x1="660.4" y1="349.8" x2="660.4" y2="359.2" stroke="#e02d43" stroke-width="0.8" opacity="0.55"/>
<rect x="659.15" y="352.0" width="2.5" height="5.0" fill="#e02d43"/>
<line x1="663.6" y1="351.9" x2="663.6" y2="360.6" stroke="#e02d43" stroke-width="0.8" opacity="0.55"/>
<rect x="662.35" y="354.0" width="2.5" height="4.5" fill="#e02d43"/>
<line x1="666.8" y1="354.7" x2="666.8" y2="383.5" stroke="#e02d43" stroke-width="0.8" opacity="0.55"/>
<rect x="665.55" y="358.8" width="2.5" height="20.6" fill="#e02d43"/>
<line x1="669.9" y1="365.5" x2="669.9" y2="378.2" stroke="#e02d43" stroke-width="0.8" opacity="0.55"/>
<rect x="668.65" y="368.0" width="2.5" height="7.7" fill="#e02d43"/>
<line x1="673.0" y1="359.5" x2="673.0" y2="376.8" stroke="#1f8c6f" stroke-width="0.8" opacity="0.55"/>
<rect x="671.75" y="362.5" width="2.5" height="11.3" fill="#1f8c6f"/>
<line x1="676.0" y1="356.8" x2="676.0" y2="366.2" stroke="#1f8c6f" stroke-width="0.8" opacity="0.55"/>
<rect x="674.75" y="359.0" width="2.5" height="5.0" fill="#1f8c6f"/>
<line x1="679.2" y1="358.5" x2="679.2" y2="365.5" stroke="#e02d43" stroke-width="0.8" opacity="0.55"/>
<rect x="677.95" y="360.5" width="2.5" height="3.0" fill="#e02d43"/>
<line x1="682.4" y1="358.8" x2="682.4" y2="365.4" stroke="#e02d43" stroke-width="0.8" opacity="0.55"/>
<rect x="681.15" y="360.7" width="2.5" height="2.8" fill="#e02d43"/>
<line x1="685.8" y1="341.2" x2="685.8" y2="364.2" stroke="#1f8c6f" stroke-width="0.8" opacity="0.55"/>
<rect x="684.55" y="344.7" width="2.5" height="16.0" fill="#1f8c6f"/>
<line x1="688.8" y1="329.8" x2="688.8" y2="344.7" stroke="#1f8c6f" stroke-width="0.8" opacity="0.55"/>
<rect x="687.55" y="332.5" width="2.5" height="9.5" fill="#1f8c6f"/>
<line x1="692.1" y1="324.3" x2="692.1" y2="339.0" stroke="#1f8c6f" stroke-width="0.8" opacity="0.55"/>
<rect x="690.85" y="327.0" width="2.5" height="9.3" fill="#1f8c6f"/>
<line x1="695.3" y1="308.6" x2="695.3" y2="319.9" stroke="#1f8c6f" stroke-width="0.8" opacity="0.55"/>
<rect x="694.05" y="311.0" width="2.5" height="6.5" fill="#1f8c6f"/>
<line x1="698.5" y1="297.1" x2="698.5" y2="310.6" stroke="#1f8c6f" stroke-width="0.8" opacity="0.55"/>
<rect x="697.25" y="299.7" width="2.5" height="8.3" fill="#1f8c6f"/>
<line x1="701.5" y1="291.0" x2="701.5" y2="298.0" stroke="#e02d43" stroke-width="0.8" opacity="0.55"/>
<rect x="700.25" y="293.0" width="2.5" height="3.0" fill="#e02d43"/>
<line x1="704.7" y1="294.1" x2="704.7" y2="300.7" stroke="#e02d43" stroke-width="0.8" opacity="0.55"/>
<rect x="703.45" y="296.0" width="2.5" height="2.8" fill="#e02d43"/>
<line x1="707.6" y1="288.3" x2="707.6" y2="296.0" stroke="#1f8c6f" stroke-width="0.8" opacity="0.55"/>
<rect x="706.35" y="290.3" width="2.5" height="3.7" fill="#1f8c6f"/>
<line x1="710.5" y1="276.3" x2="710.5" y2="291.2" stroke="#e02d43" stroke-width="0.8" opacity="0.55"/>
<rect x="709.25" y="279.0" width="2.5" height="9.5" fill="#e02d43"/>
<line x1="713.8" y1="285.9" x2="713.8" y2="299.6" stroke="#e02d43" stroke-width="0.8" opacity="0.55"/>
<rect x="712.55" y="288.5" width="2.5" height="8.5" fill="#e02d43"/>
<line x1="716.9" y1="291.0" x2="716.9" y2="298.0" stroke="#1f8c6f" stroke-width="0.8" opacity="0.55"/>
<rect x="715.65" y="293.0" width="2.5" height="3.0" fill="#1f8c6f"/>
<line x1="720.2" y1="291.0" x2="720.2" y2="308.3" stroke="#e02d43" stroke-width="0.8" opacity="0.55"/>
<rect x="718.95" y="294.0" width="2.5" height="11.3" fill="#e02d43"/>
<line x1="723.8" y1="299.0" x2="723.8" y2="331.0" stroke="#1f8c6f" stroke-width="0.8" opacity="0.55"/>
<rect x="722.55" y="301.5" width="2.5" height="27.5" fill="#1f8c6f"/>
<line x1="726.6" y1="302.9" x2="726.6" y2="314.4" stroke="#e02d43" stroke-width="0.8" opacity="0.55"/>
<rect x="725.35" y="305.3" width="2.5" height="6.7" fill="#e02d43"/>
<line x1="729.7" y1="296.5" x2="729.7" y2="306.7" stroke="#e02d43" stroke-width="0.8" opacity="0.55"/>
<rect x="728.45" y="298.8" width="2.5" height="5.6" fill="#e02d43"/>
<line x1="732.7" y1="293.9" x2="732.7" y2="302.1" stroke="#1f8c6f" stroke-width="0.8" opacity="0.55"/>
<rect x="731.45" y="296.0" width="2.5" height="4.0" fill="#1f8c6f"/>
<line x1="735.8" y1="290.7" x2="735.8" y2="311.3" stroke="#1f8c6f" stroke-width="0.8" opacity="0.55"/>
<rect x="734.55" y="294.0" width="2.5" height="14.0" fill="#1f8c6f"/>
<line x1="739.2" y1="282.2" x2="739.2" y2="294.7" stroke="#1f8c6f" stroke-width="0.8" opacity="0.55"/>
<rect x="737.95" y="284.7" width="2.5" height="7.5" fill="#1f8c6f"/>
<line x1="742.3" y1="276.1" x2="742.3" y2="282.4" stroke="#e02d43" stroke-width="0.8" opacity="0.55"/>
<rect x="741.05" y="278.0" width="2.5" height="2.5" fill="#e02d43"/>
<line x1="745.3" y1="268.1" x2="745.3" y2="280.5" stroke="#1f8c6f" stroke-width="0.8" opacity="0.55"/>
<rect x="744.05" y="270.6" width="2.5" height="7.4" fill="#1f8c6f"/>
<line x1="748.6" y1="263.7" x2="748.6" y2="284.3" stroke="#e02d43" stroke-width="0.8" opacity="0.55"/>
<rect x="747.35" y="267.0" width="2.5" height="14.0" fill="#e02d43"/>
<line x1="751.6" y1="281.0" x2="751.6" y2="286.5" stroke="#1f8c6f" stroke-width="0.8" opacity="0.55"/>
<rect x="750.35" y="282.8" width="2.5" height="1.9" fill="#1f8c6f"/>
<line x1="754.6" y1="272.2" x2="754.6" y2="277.8" stroke="#e02d43" stroke-width="0.8" opacity="0.55"/>
<rect x="753.35" y="274.0" width="2.5" height="2.0" fill="#e02d43"/>
<line x1="757.8" y1="274.2" x2="757.8" y2="279.8" stroke="#1f8c6f" stroke-width="0.8" opacity="0.55"/>
<rect x="756.55" y="276.0" width="2.5" height="2.0" fill="#1f8c6f"/>
<line x1="761.2" y1="273.8" x2="761.2" y2="282.8" stroke="#e02d43" stroke-width="0.8" opacity="0.55"/>
<rect x="759.95" y="276.0" width="2.5" height="4.6" fill="#e02d43"/>
<line x1="764.5" y1="270.2" x2="764.5" y2="282.0" stroke="#1f8c6f" stroke-width="0.8" opacity="0.55"/>
<rect x="763.25" y="272.6" width="2.5" height="7.0" fill="#1f8c6f"/>
<line x1="767.6" y1="263.9" x2="767.6" y2="269.9" stroke="#1f8c6f" stroke-width="0.8" opacity="0.55"/>
<rect x="766.35" y="265.8" width="2.5" height="2.2" fill="#1f8c6f"/>
<line x1="770.7" y1="258.4" x2="770.7" y2="264.6" stroke="#e02d43" stroke-width="0.8" opacity="0.55"/>
<rect x="769.45" y="260.3" width="2.5" height="2.4" fill="#e02d43"/>
<line x1="773.8" y1="250.6" x2="773.8" y2="256.7" stroke="#1f8c6f" stroke-width="0.8" opacity="0.55"/>
<rect x="772.55" y="252.5" width="2.5" height="2.3" fill="#1f8c6f"/>
<line x1="776.9" y1="248.0" x2="776.9" y2="255.0" stroke="#e02d43" stroke-width="0.8" opacity="0.55"/>
<rect x="775.65" y="250.0" width="2.5" height="3.0" fill="#e02d43"/>
<line x1="780.0" y1="247.7" x2="780.0" y2="257.9" stroke="#e02d43" stroke-width="0.8" opacity="0.55"/>
<rect x="778.75" y="250.0" width="2.5" height="5.6" fill="#e02d43"/>
<line x1="783.0" y1="247.6" x2="783.0" y2="253.9" stroke="#1f8c6f" stroke-width="0.8" opacity="0.55"/>
<rect x="781.75" y="249.5" width="2.5" height="2.5" fill="#1f8c6f"/>
<line x1="786.2" y1="250.7" x2="786.2" y2="255.8" stroke="#e02d43" stroke-width="0.8" opacity="0.55"/>
<rect x="784.95" y="252.5" width="2.5" height="1.5" fill="#e02d43"/>
<line x1="789.5" y1="245.0" x2="789.5" y2="252.0" stroke="#e02d43" stroke-width="0.8" opacity="0.55"/>
<rect x="788.25" y="247.0" width="2.5" height="3.0" fill="#e02d43"/>
<line x1="792.7" y1="251.4" x2="792.7" y2="264.6" stroke="#e02d43" stroke-width="0.8" opacity="0.55"/>
<rect x="791.45" y="254.0" width="2.5" height="8.0" fill="#e02d43"/>
<line x1="795.9" y1="253.4" x2="795.9" y2="263.2" stroke="#e02d43" stroke-width="0.8" opacity="0.55"/>
<rect x="794.65" y="255.6" width="2.5" height="5.4" fill="#e02d43"/>
<line x1="799.0" y1="250.4" x2="799.0" y2="258.5" stroke="#1f8c6f" stroke-width="0.8" opacity="0.55"/>
<rect x="797.75" y="252.5" width="2.5" height="3.9" fill="#1f8c6f"/>
<line x1="802.2" y1="242.1" x2="802.2" y2="255.9" stroke="#1f8c6f" stroke-width="0.8" opacity="0.55"/>
<rect x="800.95" y="244.7" width="2.5" height="8.6" fill="#1f8c6f"/>
<line x1="805.3" y1="235.9" x2="805.3" y2="241.3" stroke="#1f8c6f" stroke-width="0.8" opacity="0.55"/>
<rect x="804.05" y="237.7" width="2.5" height="1.8" fill="#1f8c6f"/>
<line x1="808.4" y1="227.9" x2="808.4" y2="234.1" stroke="#1f8c6f" stroke-width="0.8" opacity="0.55"/>
<rect x="807.15" y="229.8" width="2.5" height="2.4" fill="#1f8c6f"/>
<line x1="811.6" y1="223.8" x2="811.6" y2="233.6" stroke="#e02d43" stroke-width="0.8" opacity="0.55"/>
<rect x="810.35" y="226.0" width="2.5" height="5.4" fill="#e02d43"/>
<line x1="814.6" y1="226.1" x2="814.6" y2="232.5" stroke="#1f8c6f" stroke-width="0.8" opacity="0.55"/>
<rect x="813.35" y="228.0" width="2.5" height="2.6" fill="#1f8c6f"/>
<line x1="817.7" y1="227.2" x2="817.7" y2="232.4" stroke="#1f8c6f" stroke-width="0.8" opacity="0.55"/>
<rect x="816.45" y="229.0" width="2.5" height="1.6" fill="#1f8c6f"/>
<line x1="820.9" y1="226.3" x2="820.9" y2="233.4" stroke="#e02d43" stroke-width="0.8" opacity="0.55"/>
<rect x="819.65" y="228.3" width="2.5" height="3.1" fill="#e02d43"/>
<line x1="824.0" y1="219.6" x2="824.0" y2="231.4" stroke="#1f8c6f" stroke-width="0.8" opacity="0.55"/>
<rect x="822.75" y="222.0" width="2.5" height="7.0" fill="#1f8c6f"/>
<line x1="827.2" y1="221.6" x2="827.2" y2="228.7" stroke="#e02d43" stroke-width="0.8" opacity="0.55"/>
<rect x="825.95" y="223.6" width="2.5" height="3.1" fill="#e02d43"/>
<line x1="830.3" y1="222.8" x2="830.3" y2="232.0" stroke="#e02d43" stroke-width="0.8" opacity="0.55"/>
<rect x="829.05" y="225.0" width="2.5" height="4.8" fill="#e02d43"/>
<line x1="833.4" y1="227.7" x2="833.4" y2="235.9" stroke="#e02d43" stroke-width="0.8" opacity="0.55"/>
<rect x="832.15" y="229.8" width="2.5" height="4.0" fill="#e02d43"/>
<line x1="836.6" y1="234.3" x2="836.6" y2="248.1" stroke="#e02d43" stroke-width="0.8" opacity="0.55"/>
<rect x="835.35" y="236.9" width="2.5" height="8.6" fill="#e02d43"/>
<line x1="839.9" y1="231.2" x2="839.9" y2="244.9" stroke="#1f8c6f" stroke-width="0.8" opacity="0.55"/>
<rect x="838.65" y="233.8" width="2.5" height="8.5" fill="#1f8c6f"/>
<line x1="843.3" y1="228.7" x2="843.3" y2="234.9" stroke="#e02d43" stroke-width="0.8" opacity="0.55"/>
<rect x="842.05" y="230.6" width="2.5" height="2.4" fill="#e02d43"/>
<line x1="846.6" y1="225.2" x2="846.6" y2="230.8" stroke="#1f8c6f" stroke-width="0.8" opacity="0.55"/>
<rect x="845.35" y="227.0" width="2.5" height="2.0" fill="#1f8c6f"/>
<line x1="849.8" y1="225.2" x2="849.8" y2="230.3" stroke="#1f8c6f" stroke-width="0.8" opacity="0.55"/>
<rect x="848.55" y="227.0" width="2.5" height="1.5" fill="#1f8c6f"/>
<line x1="853.1" y1="220.2" x2="853.1" y2="225.4" stroke="#e02d43" stroke-width="0.8" opacity="0.55"/>
<rect x="851.85" y="222.0" width="2.5" height="1.6" fill="#e02d43"/>
<line x1="856.3" y1="219.2" x2="856.3" y2="224.6" stroke="#1f8c6f" stroke-width="0.8" opacity="0.55"/>
<rect x="855.05" y="221.0" width="2.5" height="1.8" fill="#1f8c6f"/>
<line x1="859.5" y1="217.8" x2="859.5" y2="223.9" stroke="#1f8c6f" stroke-width="0.8" opacity="0.55"/>
<rect x="858.25" y="219.7" width="2.5" height="2.3" fill="#1f8c6f"/>
<line x1="862.6" y1="217.9" x2="862.6" y2="223.3" stroke="#e02d43" stroke-width="0.8" opacity="0.55"/>
<rect x="861.35" y="219.7" width="2.5" height="1.8" fill="#e02d43"/>
<line x1="865.6" y1="217.0" x2="865.6" y2="231.7" stroke="#e02d43" stroke-width="0.8" opacity="0.55"/>
<rect x="864.35" y="219.7" width="2.5" height="9.3" fill="#e02d43"/>
<line x1="868.6" y1="221.2" x2="868.6" y2="233.0" stroke="#e02d43" stroke-width="0.8" opacity="0.55"/>
<rect x="867.35" y="223.6" width="2.5" height="7.0" fill="#e02d43"/>
<line x1="871.9" y1="214.9" x2="871.9" y2="226.0" stroke="#1f8c6f" stroke-width="0.8" opacity="0.55"/>
<rect x="870.65" y="217.3" width="2.5" height="6.3" fill="#1f8c6f"/>
<line x1="875.0" y1="211.7" x2="875.0" y2="217.3" stroke="#e02d43" stroke-width="0.8" opacity="0.55"/>
<rect x="873.75" y="213.5" width="2.5" height="2.0" fill="#e02d43"/>
<line x1="878.2" y1="214.2" x2="878.2" y2="219.8" stroke="#e02d43" stroke-width="0.8" opacity="0.55"/>
<rect x="876.95" y="216.0" width="2.5" height="2.0" fill="#e02d43"/>
<line x1="881.2" y1="214.7" x2="881.2" y2="220.6" stroke="#e02d43" stroke-width="0.8" opacity="0.55"/>
<rect x="879.95" y="216.6" width="2.5" height="2.1" fill="#e02d43"/>
<line x1="884.4" y1="211.2" x2="884.4" y2="216.8" stroke="#1f8c6f" stroke-width="0.8" opacity="0.55"/>
<rect x="883.15" y="213.0" width="2.5" height="2.0" fill="#1f8c6f"/>
<line x1="887.5" y1="209.2" x2="887.5" y2="214.3" stroke="#e02d43" stroke-width="0.8" opacity="0.55"/>
<rect x="886.25" y="211.0" width="2.5" height="1.5" fill="#e02d43"/>
<line x1="890.8" y1="206.2" x2="890.8" y2="211.8" stroke="#1f8c6f" stroke-width="0.8" opacity="0.55"/>
<rect x="889.55" y="208.0" width="2.5" height="2.0" fill="#1f8c6f"/>
<line x1="894.0" y1="202.7" x2="894.0" y2="208.6" stroke="#e02d43" stroke-width="0.8" opacity="0.55"/>
<rect x="892.75" y="204.6" width="2.5" height="2.1" fill="#e02d43"/>
<line x1="897.0" y1="200.7" x2="897.0" y2="206.0" stroke="#1f8c6f" stroke-width="0.8" opacity="0.55"/>
<rect x="895.75" y="202.5" width="2.5" height="1.7" fill="#1f8c6f"/>
<line x1="900.2" y1="194.8" x2="900.2" y2="220.5" stroke="#e02d43" stroke-width="0.8" opacity="0.55"/>
<rect x="898.95" y="196.0" width="2.5" height="22.0" fill="#e02d43"/>
<line x1="903.3" y1="209.2" x2="903.3" y2="214.8" stroke="#e02d43" stroke-width="0.8" opacity="0.55"/>
<rect x="902.05" y="211.0" width="2.5" height="2.0" fill="#e02d43"/>
<line x1="906.4" y1="207.6" x2="906.4" y2="213.5" stroke="#1f8c6f" stroke-width="0.8" opacity="0.55"/>
<rect x="905.15" y="209.5" width="2.5" height="2.1" fill="#1f8c6f"/>
<line x1="909.4" y1="205.5" x2="909.4" y2="211.4" stroke="#e02d43" stroke-width="0.8" opacity="0.55"/>
<rect x="908.15" y="207.4" width="2.5" height="2.1" fill="#e02d43"/>
<line x1="912.6" y1="216.2" x2="912.6" y2="221.8" stroke="#e02d43" stroke-width="0.8" opacity="0.55"/>
<rect x="911.35" y="218.0" width="2.5" height="2.0" fill="#e02d43"/>
<line x1="915.7" y1="215.4" x2="915.7" y2="221.3" stroke="#e02d43" stroke-width="0.8" opacity="0.55"/>
<rect x="914.45" y="217.3" width="2.5" height="2.1" fill="#e02d43"/>
<line x1="919.0" y1="215.3" x2="919.0" y2="222.8" stroke="#e02d43" stroke-width="0.8" opacity="0.55"/>
<rect x="917.75" y="217.3" width="2.5" height="3.5" fill="#e02d43"/>
<line x1="922.3" y1="221.1" x2="922.3" y2="227.6" stroke="#1f8c6f" stroke-width="0.8" opacity="0.55"/>
<rect x="921.05" y="223.0" width="2.5" height="2.7" fill="#1f8c6f"/>
<line x1="925.5" y1="211.6" x2="925.5" y2="220.9" stroke="#1f8c6f" stroke-width="0.8" opacity="0.55"/>
<rect x="924.25" y="213.8" width="2.5" height="4.9" fill="#1f8c6f"/>
<line x1="928.8" y1="209.7" x2="928.8" y2="215.7" stroke="#1f8c6f" stroke-width="0.8" opacity="0.55"/>
<rect x="927.55" y="211.6" width="2.5" height="2.2" fill="#1f8c6f"/>
<line x1="931.9" y1="206.6" x2="931.9" y2="216.0" stroke="#e02d43" stroke-width="0.8" opacity="0.55"/>
<rect x="930.65" y="208.8" width="2.5" height="5.0" fill="#e02d43"/>
<line x1="935.2" y1="206.2" x2="935.2" y2="213.3" stroke="#1f8c6f" stroke-width="0.8" opacity="0.55"/>
<rect x="933.95" y="208.2" width="2.5" height="3.1" fill="#1f8c6f"/>
<line x1="938.2" y1="203.3" x2="938.2" y2="209.6" stroke="#1f8c6f" stroke-width="0.8" opacity="0.55"/>
<rect x="936.95" y="205.2" width="2.5" height="2.5" fill="#1f8c6f"/>
<line x1="941.5" y1="205.2" x2="941.5" y2="210.8" stroke="#e02d43" stroke-width="0.8" opacity="0.55"/>
<rect x="940.25" y="207.0" width="2.5" height="2.0" fill="#e02d43"/>
<line x1="944.6" y1="204.1" x2="944.6" y2="212.3" stroke="#e02d43" stroke-width="0.8" opacity="0.55"/>
<rect x="943.35" y="206.2" width="2.5" height="4.0" fill="#e02d43"/>
<line x1="947.7" y1="206.9" x2="947.7" y2="227.8" stroke="#e02d43" stroke-width="0.8" opacity="0.55"/>
<rect x="946.45" y="210.2" width="2.5" height="14.3" fill="#e02d43"/>
<line x1="950.6" y1="220.1" x2="950.6" y2="230.8" stroke="#e02d43" stroke-width="0.8" opacity="0.55"/>
<rect x="949.35" y="222.4" width="2.5" height="6.1" fill="#e02d43"/>
<line x1="953.7" y1="222.0" x2="953.7" y2="234.1" stroke="#e02d43" stroke-width="0.8" opacity="0.55"/>
<rect x="952.45" y="224.5" width="2.5" height="7.1" fill="#e02d43"/>
<line x1="956.8" y1="235.5" x2="956.8" y2="255.1" stroke="#e02d43" stroke-width="0.8" opacity="0.55"/>
<rect x="955.55" y="238.7" width="2.5" height="13.2" fill="#e02d43"/>
<line x1="959.9" y1="234.4" x2="959.9" y2="245.1" stroke="#1f8c6f" stroke-width="0.8" opacity="0.55"/>
<rect x="958.65" y="236.7" width="2.5" height="6.1" fill="#1f8c6f"/>
<line x1="963.2" y1="223.7" x2="963.2" y2="233.9" stroke="#1f8c6f" stroke-width="0.8" opacity="0.55"/>
<rect x="961.95" y="226.0" width="2.5" height="5.6" fill="#1f8c6f"/>
<line x1="966.3" y1="221.0" x2="966.3" y2="228.0" stroke="#e02d43" stroke-width="0.8" opacity="0.55"/>
<rect x="965.05" y="223.0" width="2.5" height="3.0" fill="#e02d43"/>
<!-- range lines -->
<line x1="486.5" y1="160.5" x2="486.5" y2="480" stroke="#6a82dc" stroke-width="1.8"/>
<line x1="415.2" y1="320.8" x2="559" y2="320.8" stroke="#6a82dc" stroke-width="1.8"/>
<path d="M552.4,313.6 L559.6,320.8 L552.4,328.0" fill="none" stroke="#6a82dc" stroke-width="1.8"/>
<line x1="601.5" y1="288.8" x2="601.5" y2="479" stroke="#6a82dc" stroke-width="1.8"/>
<path d="M594.5,472.2 L601.5,479.2 L608.5,472.2" fill="none" stroke="#6a82dc" stroke-width="1.8"/>
<line x1="537.2" y1="385.8" x2="665.8" y2="385.8" stroke="#6a82dc" stroke-width="1.8"/>
<path d="M659.9,379.5 L666.2,385.8 L659.9,392.1" fill="none" stroke="#6a82dc" stroke-width="1.8"/>
<!-- death cross -->
<circle cx="531.6" cy="202.6" r="22" fill="none" stroke="#33384f" stroke-width="1.45"/>
<line x1="603.3" y1="149.9" x2="549" y2="175.8" stroke="#8a8a8a" stroke-width="1.1"/>
<path d="M545.6,177.5 L552.2,171.6 L554.4,176.2 Z" fill="#8a8a8a"/>
<text x="574.6" y="140" font-size="12.2" fill="#3a3a3a" stroke="#3a3a3a" stroke-width="0.35" textLength="65.6" lengthAdjust="spacingAndGlyphs">Death Cross</text>
<!-- tooltips -->
<rect x="545.5" y="246.5" width="110.5" height="38.3" fill="#fff" stroke="#ececec" stroke-width="0.8"/>
<text x="602.5" y="254.8" text-anchor="middle" class="tt" textLength="95.8" lengthAdjust="spacingAndGlyphs">-2,606.95 (-25.71%) -52,139</text>
<text x="601.5" y="266.6" text-anchor="middle" class="tt">41 bars, 66d</text>
<text x="601.9" y="279.6" text-anchor="middle" class="tt">Vol 32.318</text>
<rect x="431.5" y="472.5" width="108" height="39" fill="#fff" stroke="#ececec" stroke-width="0.8"/>
<text x="486.8" y="483.6" text-anchor="middle" class="tt" textLength="96.3" lengthAdjust="spacingAndGlyphs">-4,904.15 (-35.44%) -98,083</text>
<text x="486.8" y="496.2" text-anchor="middle" class="tt">46 bars, 67d</text>
<text x="486.5" y="508.6" text-anchor="middle" class="tt">Vol 34.958</text>
<!-- axes -->
<clipPath id="yc"><rect x="960" y="122.6" width="64" height="390.9"/></clipPath><g clip-path="url(#yc)"><text x="977.6" y="125.4" class="ax">13,200.00</text>
<text x="977.6" y="144.9" class="ax">12,800.00</text>
<text x="977.6" y="165.1" class="ax">12,400.00</text>
<text x="977.6" y="186.0" class="ax">12,000.00</text>
<text x="977.6" y="210.9" class="ax">11,600.00</text>
<text x="977.6" y="229.9" class="ax">11,200.00</text>
<text x="977.6" y="241.3" class="ax">11,000.00</text>
<text x="977.6" y="264.9" class="ax">10,600.00</text>
<text x="977.6" y="289.4" class="ax">10,200.00</text>
<text x="977.6" y="314.8" class="ax">9,800.00</text>
<text x="977.6" y="341.3" class="ax">9,400.00</text>
<text x="977.6" y="369.0" class="ax">9,000.00</text>
<text x="977.6" y="390.5" class="ax">8,700.00</text>
<text x="977.6" y="412.8" class="ax">8,400.00</text>
<text x="977.6" y="436.0" class="ax">8,100.00</text>
<text x="977.6" y="455.9" class="ax">7,850.00</text>
<text x="977.6" y="475.7" class="ax">7,610.00</text>
<text x="977.6" y="494.7" class="ax">7,385.00</text>
<text x="977.6" y="514.0" class="ax">7,165.00</text></g>
<text x="61" y="525.3" text-anchor="middle" class="ax" style="font-size:7.5px">Aug</text>
<text x="124" y="525.3" text-anchor="middle" class="ax" style="font-size:7.5px">Sep</text>
<text x="183" y="525.3" text-anchor="middle" class="ax" style="font-size:7.5px">Oct</text>
<text x="247" y="525.3" text-anchor="middle" class="ax" style="font-size:7.5px">Nov</text>
<text x="310" y="525.3" text-anchor="middle" class="ax" style="font-size:7.5px">Dec</text>
<text x="376" y="525.3" text-anchor="middle" class="ax" style="font-size:7.5px">2020</text>
<text x="449" y="525.3" text-anchor="middle" class="ax" style="font-size:7.5px">Feb</text>
<text x="511.7" y="525.3" text-anchor="middle" class="ax" style="font-size:7.5px">Mar</text>
<text x="578" y="525.3" text-anchor="middle" class="ax" style="font-size:7.5px">Apr</text>
<text x="635" y="525.3" text-anchor="middle" class="ax" style="font-size:7.5px">May</text>
<text x="695" y="525.3" text-anchor="middle" class="ax" style="font-size:7.5px">Jun</text>
<text x="765" y="525.3" text-anchor="middle" class="ax" style="font-size:7.5px">Jul</text>
<text x="836.7" y="525.3" text-anchor="middle" class="ax" style="font-size:7.5px">Aug</text>
<text x="903" y="525.3" text-anchor="middle" class="ax" style="font-size:7.5px">Sep</text>
<text x="969" y="525.3" text-anchor="middle" class="ax" style="font-size:7.5px">O</text>
<!-- price boxes -->
<rect x="972.4" y="209" width="41.3" height="11.2" rx="2" fill="#fff" stroke="#7fd0c4" stroke-width="0.9"/>
<text x="978" y="217.6" class="ax" style="fill:#1a9c86;stroke:#1a9c86;stroke-width:0.2">11,416.95</text>
<rect x="972.4" y="222.4" width="41.3" height="9.6" rx="2" fill="#fff" stroke="#f8dcb5" stroke-width="0.9"/>
<text x="978" y="230.2" class="ax" style="fill:#f0b060;stroke:#f0b060;stroke-width:0.2">11,180.79</text>
<rect x="972.4" y="241.7" width="41.3" height="10.4" rx="2" fill="#fff" stroke="#9cc9ef" stroke-width="0.9"/>
<text x="978" y="249.9" class="ax" style="fill:#3d8fe0;stroke:#3d8fe0;stroke-width:0.2">10,857.19</text>
<!-- header -->
<text y="134.4" class="hd"><tspan x="10.6" fill="#404040" textLength="83">Nifty 50 Index · 1D · NSE</tspan><tspan x="98.3" fill="#404040">O</tspan><tspan fill="#e27088" textLength="32">23,674.85</tspan><tspan x="140.8" fill="#404040">H</tspan><tspan fill="#e27088" textLength="32">23,833.15</tspan><tspan x="183.6" fill="#404040">L</tspan><tspan fill="#e27088" textLength="32">23,556.30</tspan><tspan x="225.8" fill="#404040">C</tspan><tspan fill="#e27088" textLength="32">23,628.15</tspan><tspan x="270.5" fill="#e27088" textLength="56.5">−227.70 (−0.95%)</tspan></text>
<!-- logo -->
<g id="logo">
<g fill="none" stroke="#050505" stroke-width="9.8">
<path d="M837.2,578.5 C834,573.5 829,571.9 823.2,571.9 C815,571.9 810,575.8 810,581.8 C810,588.5 816.5,589.6 823.5,591 C831.5,592.6 837.3,594.8 837.3,601.3 C837.3,607.6 831.4,609.7 823.3,609.7 C816.5,609.7 811.3,607 808.8,602"/>
<path d="M855.4,573.4 L855.4,602 C855.4,608.5 858.5,609.5 863,609.5 L869.7,609.5" stroke-width="10"/>
<path d="M881.3,600 C881.3,588 886,584.6 897,584.6" stroke-width="9"/>
<path d="M955.1,597.1 A13.1,14.0 0 0,1 981.3,597.1" stroke-width="8.4"/>
<path d="M955.1,597.1 A13.1,14.0 0 0,0 977.1,607.6" stroke-width="8.4"/>
</g>
<g fill="#050505">
<rect x="845.6" y="580" width="24.1" height="9.2"/>
<rect x="876.4" y="580" width="9.8" height="34"/>
<rect x="903.7" y="564.1" width="9.4" height="9.4" rx="1.2"/>
<rect x="903.7" y="580" width="9.4" height="34.2"/>
<rect x="919.2" y="564.1" width="9.8" height="50.1"/>
</g>
<path d="M928.6,595.5 L939.4,580 L952.5,580 L944,595.5 L953.4,614.2 L940.3,614.2 Z" fill="#2b66f2"/>
<rect x="930" y="592.2" width="55.3" height="8" fill="#2b66f2"/>

</g>
</svg>
</body></html>
